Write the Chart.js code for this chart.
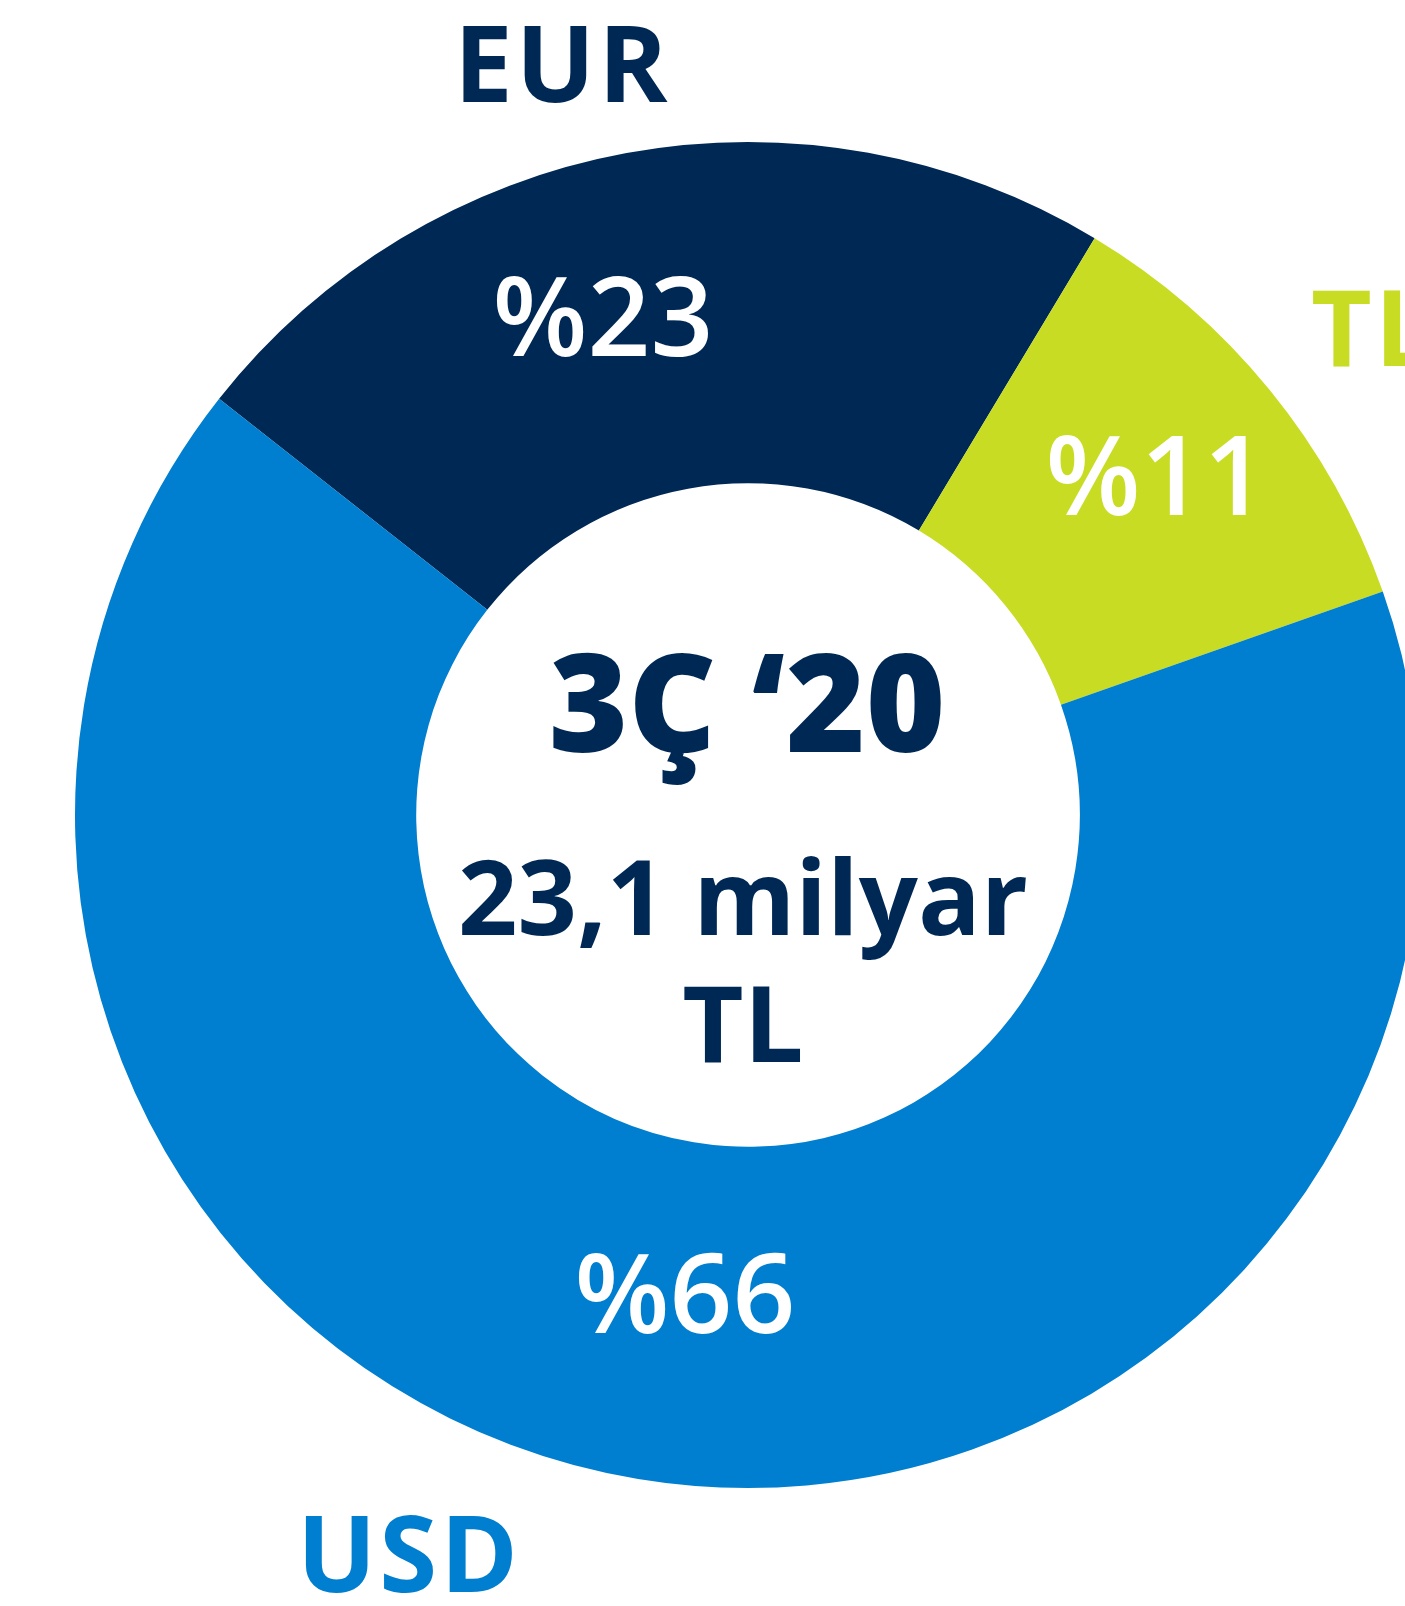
<!DOCTYPE html>
<html>
<head>
<meta charset="utf-8">
<script src="https://cdn.jsdelivr.net/npm/chart.js@4.4.0/dist/chart.umd.min.js"></script>
<style>
  html, body { margin: 0; padding: 0; background: #ffffff; overflow: hidden; width: 1405px; height: 1606px; }
  canvas { display: block; }
</style>
</head>
<body>
<canvas id="c" width="1496" height="1632"></canvas>
<script>
const categories = ['EUR', 'TL', 'USD'];
const shares = [23, 11, 66];
const segmentColors = ['#002855', '#c8dc23', '#007ecf'];
const percentLabels = ['%23', '%11', '%66'];
const centerLines = ['3Ç ‘20', '23,1 milyar', 'TL'];

const FONT = '"Open Sans", "Noto Sans", sans-serif';

const labelPlugin = {
  id: 'labels',
  afterDraw(chart) {
    const ctx = chart.ctx;
    const a = chart.chartArea;
    const cx = (a.left + a.right) / 2;
    const cy = (a.top + a.bottom) / 2;
    ctx.save();
    ctx.textBaseline = 'alphabetic';

    // percentage labels inside segments
    ctx.fillStyle = '#ffffff';
    ctx.font = '600 110px ' + FONT;
    ctx.textAlign = 'center';
    const pctPos = [[-145, -459], [408, -300], [-63, 518]];
    percentLabels.forEach((t, i) => ctx.fillText(t, cx + pctPos[i][0], cy + pctPos[i][1]));

    // outer category labels
    ctx.font = '700 105px ' + FONT;
    if ('letterSpacing' in ctx) ctx.letterSpacing = '3px';
    ctx.textAlign = 'left';
    ctx.fillStyle = segmentColors[0];
    ctx.fillText(categories[0], cx - 294, cy - 713);
    ctx.fillStyle = segmentColors[1];
    ctx.fillText(categories[1], cx + 563, cy - 449);
    ctx.fillStyle = segmentColors[2];
    ctx.fillText(categories[2], cx - 451, cy + 777);
    if ('letterSpacing' in ctx) ctx.letterSpacing = '0px';

    // centre text
    ctx.fillStyle = '#002855';
    ctx.textAlign = 'center';
    ctx.font = '800 136px ' + FONT;
    ctx.fillText(centerLines[0], cx - 1, cy - 63);
    ctx.font = '700 104px ' + FONT;
    ctx.fillText(centerLines[1], cx - 5, cy + 120);
    ctx.font = '700 106px ' + FONT;
    ctx.fillText(centerLines[2], cx - 5, cy + 247);
    ctx.restore();
  }
};

new Chart(document.getElementById('c'), {
  type: 'doughnut',
  data: {
    labels: categories,
    datasets: [{
      data: shares,
      backgroundColor: segmentColors,
      borderWidth: 0,
      hoverOffset: 0
    }]
  },
  options: {
    responsive: false,
    animation: false,
    devicePixelRatio: 1,
    rotation: -51.8,
    cutout: '49.3%',
    layout: { padding: { left: 75, right: 75, top: 142, bottom: 144 } },
    plugins: { legend: { display: false }, tooltip: { enabled: false } }
  },
  plugins: [labelPlugin]
});
</script>
</body>
</html>
